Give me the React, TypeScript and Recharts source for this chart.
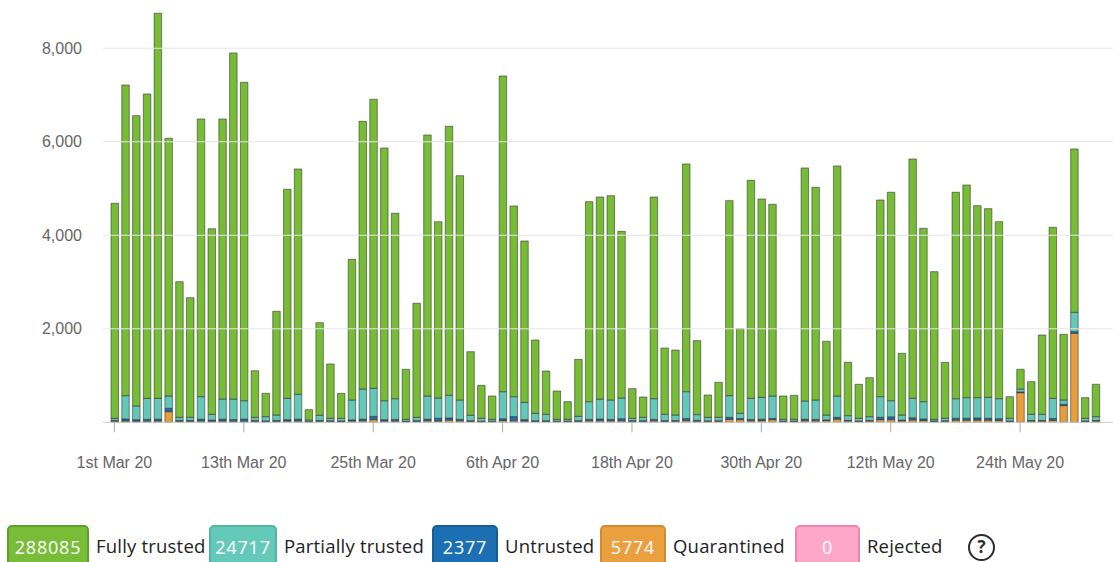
import React from "react";
import { BarChart, Bar, XAxis, YAxis, ReferenceLine } from "recharts";

const dates = [
  "1st Mar 20","2nd Mar 20","3rd Mar 20","4th Mar 20","5th Mar 20","6th Mar 20","7th Mar 20","8th Mar 20","9th Mar 20","10th Mar 20",
  "11th Mar 20","12th Mar 20","13th Mar 20","14th Mar 20","15th Mar 20","16th Mar 20","17th Mar 20","18th Mar 20","19th Mar 20","20th Mar 20",
  "21st Mar 20","22nd Mar 20","23rd Mar 20","24th Mar 20","25th Mar 20","26th Mar 20","27th Mar 20","28th Mar 20","29th Mar 20","30th Mar 20","31st Mar 20",
  "1st Apr 20","2nd Apr 20","3rd Apr 20","4th Apr 20","5th Apr 20","6th Apr 20","7th Apr 20","8th Apr 20","9th Apr 20","10th Apr 20",
  "11th Apr 20","12th Apr 20","13th Apr 20","14th Apr 20","15th Apr 20","16th Apr 20","17th Apr 20","18th Apr 20","19th Apr 20","20th Apr 20",
  "21st Apr 20","22nd Apr 20","23rd Apr 20","24th Apr 20","25th Apr 20","26th Apr 20","27th Apr 20","28th Apr 20","29th Apr 20","30th Apr 20",
  "1st May 20","2nd May 20","3rd May 20","4th May 20","5th May 20","6th May 20","7th May 20","8th May 20","9th May 20","10th May 20",
  "11th May 20","12th May 20","13th May 20","14th May 20","15th May 20","16th May 20","17th May 20","18th May 20","19th May 20","20th May 20",
  "21st May 20","22nd May 20","23rd May 20","24th May 20","25th May 20","26th May 20","27th May 20","28th May 20","29th May 20","30th May 20","31st May 20",
];

const tickLabels = ["1st Mar 20", "13th Mar 20", "25th Mar 20", "6th Apr 20", "18th Apr 20", "30th Apr 20", "12th May 20", "24th May 20"];
const yTicks = [2000, 4000, 6000, 8000];

const fullyTrusted = [
  4599, 6646, 6209, 6509, 8236, 5512, 2901, 2558, 5940, 3970,
  5990, 7402, 6810, 997, 499, 2218, 4471, 4819, 220, 1981,
  1162, 535, 3010, 5726, 6182, 5405, 3966, 1070, 2438, 5583,
  3771, 5754, 4798, 1360, 706, 499, 6752, 4079, 3451, 1568,
  926, 606, 377, 1219, 4278, 4321, 4371, 3565, 635, 434,
  4314, 1418, 1390, 4870, 1582, 477, 748, 4171, 1811, 4663,
  4243, 4100, 499, 513, 4984, 4550, 1577, 4920, 1141, 728,
  833, 4207, 4458, 1320, 5119, 3709, 3158, 1198, 4415, 4549,
  4107, 4036, 3786, 463, 422, 698, 1696, 3658, 1405, 3493, 442, 692,
];

const partiallyTrusted = [
  43, 497, 292, 449, 446, 263, 67, 67, 481, 124,
  431, 439, 393, 67, 91, 116, 456, 532, 32, 110,
  50, 55, 425, 645, 600, 405, 443, 39, 72, 496,
  433, 485, 415, 115, 60, 39, 578, 426, 370, 157,
  136, 39, 39, 93, 379, 426, 415, 443, 50, 72,
  443, 134, 119, 573, 122, 75, 73, 463, 110, 451,
  467, 481, 39, 39, 389, 415, 104, 456, 100, 55,
  82, 441, 345, 109, 416, 369, 34, 51, 418, 440,
  435, 447, 428, 55, 63, 132, 132, 431, 91, 414, 55, 82,
];

const untrusted = [
  20, 45, 35, 40, 40, 73, 20, 20, 40, 25,
  40, 35, 45, 20, 15, 20, 30, 40, 8, 20,
  15, 15, 25, 35, 70, 30, 35, 10, 15, 35,
  60, 45, 30, 15, 10, 10, 40, 90, 30, 15,
  15, 10, 10, 15, 30, 40, 30, 45, 15, 15,
  30, 15, 15, 45, 20, 12, 12, 45, 25, 30,
  30, 25, 10, 10, 35, 30, 15, 40, 15, 10,
  12, 50, 60, 15, 45, 35, 10, 12, 40, 40,
  45, 40, 35, 10, 15, 12, 12, 40, 30, 35, 10, 12,
];

const quarantined = [
  22, 27, 22, 24, 27, 227, 20, 20, 27, 22,
  27, 24, 24, 20, 15, 20, 27, 27, 10, 20,
  20, 15, 27, 32, 57, 27, 27, 15, 20, 32,
  27, 47, 32, 20, 15, 15, 37, 32, 27, 20,
  20, 15, 15, 20, 32, 32, 32, 32, 20, 20,
  32, 22, 22, 37, 22, 20, 22, 62, 57, 32,
  37, 57, 15, 15, 32, 32, 37, 67, 27, 20,
  27, 57, 57, 32, 52, 37, 20, 22, 47, 47,
  47, 47, 42, 20, 634, 27, 27, 42, 356, 1904, 20, 27,
];

const rejected = [
  0, 0, 0, 0, 0, 0, 0, 0, 0, 0,
  0, 0, 0, 0, 0, 0, 0, 0, 0, 0,
  0, 0, 0, 0, 0, 0, 0, 0, 0, 0,
  0, 0, 0, 0, 0, 0, 0, 0, 0, 0,
  0, 0, 0, 0, 0, 0, 0, 0, 0, 0,
  0, 0, 0, 0, 0, 0, 0, 0, 0, 0,
  0, 0, 0, 0, 0, 0, 0, 0, 0, 0,
  0, 0, 0, 0, 0, 0, 0, 0, 0, 0,
  0, 0, 0, 0, 0, 0, 0, 0, 0, 0, 0, 0,
];

const seriesNames = ["Fully trusted", "Partially trusted", "Untrusted", "Quarantined", "Rejected"];
const legendTotals = [288085, 24717, 2377, 5774, 0];

const COLORS = {
  fully: "#76bc35",
  partial: "#63c8b8",
  untrusted: "#1a6eb2",
  quarantined: "#e99e3c",
  rejected: "#ffa7c8",
};

const legendStyles = [
  { bg: "#78bc38", border: "#5f9f2b", boxLeft: 7, boxWidth: 82, textLeft: 96 },
  { bg: "#65c9b9", border: "#50b5a5", boxLeft: 209, boxWidth: 68, textLeft: 284 },
  { bg: "#1b6fb2", border: "#165c95", boxLeft: 432, boxWidth: 66, textLeft: 505 },
  { bg: "#eba040", border: "#d38b2f", boxLeft: 600, boxWidth: 66, textLeft: 673 },
  { bg: "#fda8c9", border: "#f583b0", boxLeft: 795, boxWidth: 65, textLeft: 867 },
];

const data = dates.map((d, i) => ({
  date: d,
  rejected: rejected[i],
  quarantined: quarantined[i],
  untrusted: untrusted[i],
  partial: partiallyTrusted[i],
  fully: fullyTrusted[i],
}));

const BAR_STROKE = "rgba(45,45,45,0.55)";

const css =
  "svg, svg:focus, .recharts-wrapper, .recharts-surface { outline: none !important; }" +
  " .recharts-yAxis .recharts-cartesian-axis-line { display: none !important; }";

export default function App() {
  return (
    <div
      style={{
        position: "absolute",
        left: 0,
        top: 0,
        width: 1113,
        height: 562,
        overflow: "hidden",
        background: "#ffffff",
      }}
    >
      <style>{css}</style>
      <BarChart
        width={1113}
        height={470}
        data={data}
        margin={{ top: 1.5, right: 0, bottom: 0, left: 0 }}
        barSize={7.5}
        accessibilityLayer={false}
        style={{ fontFamily: "'Liberation Sans', Arial, sans-serif" }}
      >
        <XAxis
          dataKey="date"
          ticks={tickLabels}
          interval={0}
          height={47.7}
          padding={{ left: 6, right: 12 }}
          tickSize={10}
          tickMargin={24}
          axisLine={{ stroke: "#cccccc" }}
          tickLine={{ stroke: "#aaaaaa" }}
          tick={{ fill: "#666666", fontSize: 16 }}
        />
        <YAxis
          width={103}
          domain={[0, 9000]}
          ticks={yTicks}
          axisLine={false}
          tickLine={false}
          tickSize={6}
          tickMargin={15}
          tick={{ fill: "#666666", fontSize: 16 }}
          tickFormatter={(v: number) => v.toLocaleString("en-US")}
        />
        {yTicks.map((t) => (
          <ReferenceLine key={t} y={t} stroke="#e6e6e6" strokeWidth={1} ifOverflow="extendDomain" />
        ))}
        <Bar dataKey="rejected" name={seriesNames[4]} stackId="s" fill={COLORS.rejected} stroke={BAR_STROKE} strokeWidth={1} isAnimationActive={false} />
        <Bar dataKey="quarantined" name={seriesNames[3]} stackId="s" fill={COLORS.quarantined} stroke={BAR_STROKE} strokeWidth={1} isAnimationActive={false} />
        <Bar dataKey="untrusted" name={seriesNames[2]} stackId="s" fill={COLORS.untrusted} stroke={BAR_STROKE} strokeWidth={1} isAnimationActive={false} />
        <Bar dataKey="partial" name={seriesNames[1]} stackId="s" fill={COLORS.partial} stroke={BAR_STROKE} strokeWidth={1} isAnimationActive={false} />
        <Bar dataKey="fully" name={seriesNames[0]} stackId="s" fill={COLORS.fully} stroke={BAR_STROKE} strokeWidth={1} isAnimationActive={false} />
      </BarChart>

      {seriesNames.map((name, i) => {
        const s = legendStyles[i];
        return (
          <React.Fragment key={name}>
            <div
              style={{
                position: "absolute",
                left: s.boxLeft,
                top: 525,
                width: s.boxWidth,
                height: 42,
                boxSizing: "border-box",
                background: s.bg,
                border: `2px solid ${s.border}`,
                borderRadius: 5,
                color: "#ffffff",
                fontFamily: "'Open Sans', 'Noto Sans', sans-serif",
                fontSize: 18,
                letterSpacing: 0.8,
                lineHeight: "40px",
                textAlign: "center",
              }}
            >
              <div style={{ marginTop: 0 }}>{legendTotals[i]}</div>
            </div>
            <div
              style={{
                position: "absolute",
                left: s.textLeft,
                top: 526,
                height: 40,
                lineHeight: "40px",
                fontFamily: "'Open Sans', 'Noto Sans', sans-serif",
                fontSize: 18.5,
                letterSpacing: 0.2,
                color: "#222222",
                whiteSpace: "nowrap",
              }}
            >
              {name}
            </div>
          </React.Fragment>
        );
      })}

      <div
        style={{
          position: "absolute",
          left: 968,
          top: 534,
          width: 27,
          height: 27,
          boxSizing: "border-box",
          border: "2.5px solid #2b2b2b",
          borderRadius: "50%",
          fontFamily: "'Open Sans', 'Noto Sans', sans-serif",
          fontWeight: 700,
          fontSize: 17,
          lineHeight: "22px",
          textAlign: "center",
          color: "#2b2b2b",
        }}
      >
        ?
      </div>
    </div>
  );
}
